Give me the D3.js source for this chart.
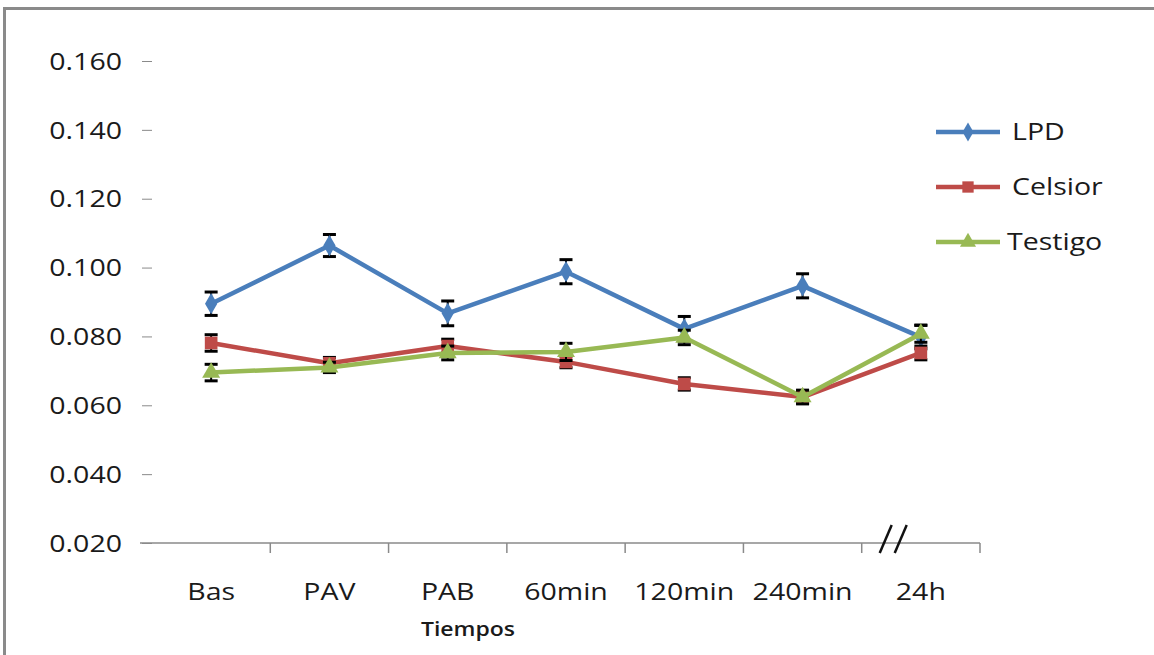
<!DOCTYPE html>
<html>
<head>
<meta charset="utf-8">
<script src="https://cdn.jsdelivr.net/npm/d3@7"></script>
<style>
  html, body { margin: 0; padding: 0; background: #ffffff; }
  svg { display: block; }
  text { font-family: "Open Sans", "Liberation Sans", sans-serif; fill: #1a1a1a; }
</style>
</head>
<body>
<svg id="chart" width="1154" height="655"></svg>
<script>
// Sampling times (x categories)
const categories = ["Bas", "PAV", "PAB", "60min", "120min", "240min", "24h"];

// Mean values per group
const lpd     = [0.0895, 0.1064, 0.0867, 0.0988, 0.0822, 0.0947, 0.0798];
const celsior = [0.0781, 0.0722, 0.0772, 0.0726, 0.0662, 0.0624, 0.0752];
const testigo = [0.0695, 0.0710, 0.0752, 0.0755, 0.0797, 0.0624, 0.0808];

// Error (± value) per group
const lpdErr     = [0.0034, 0.0032, 0.0036, 0.0035, 0.0036, 0.0035, 0.0034];
const celsiorErr = [0.0024, 0.0017, 0.0020, 0.0017, 0.0018, 0.0018, 0.0020];
const testigoErr = [0.0024, 0.0015, 0.0020, 0.0025, 0.0021, 0.0020, 0.0025];

// Y axis ticks
const yTicks = [0.02, 0.04, 0.06, 0.08, 0.10, 0.12, 0.14, 0.16];

const seriesNames = ["LPD", "Celsior", "Testigo"];
const seriesColors = ["#4A7EBB", "#BE4B48", "#98B954"];
const seriesShapes = [d3.symbolDiamond, d3.symbolSquare, d3.symbolTriangle];
const seriesSizes = [130, 160, 140];

const series = [
  { name: seriesNames[0], values: lpd, err: lpdErr },
  { name: seriesNames[1], values: celsior, err: celsiorErr },
  { name: seriesNames[2], values: testigo, err: testigoErr }
];

const svg = d3.select("#chart");

// Outer frame
svg.append("rect")
  .attr("x", 4.5).attr("y", 8.5)
  .attr("width", 1170).attr("height", 670)
  .attr("fill", "none")
  .attr("stroke", "#8a8a8a")
  .attr("stroke-width", 3);

const x = d3.scaleBand().domain(categories).range([152, 980]).padding(0);
const y = d3.scaleLinear().domain([0.02, 0.16]).range([543, 61]);

const sx = 1.24; // horizontal stretch of label glyphs
const fs = 23;

// Y axis: labels and short tick marks, no spine
const yAxis = svg.append("g").attr("transform", "translate(152,0)")
  .call(d3.axisLeft(y).tickValues(yTicks).tickSize(10).tickPadding(20)
    .tickFormat(d3.format(".3f")));
yAxis.select(".domain").remove();
yAxis.selectAll(".tick line").attr("stroke", "#8a8a8a");
yAxis.selectAll(".tick text")
  .attr("font-size", fs)
  .attr("font-family", "Open Sans")
  .attr("fill", "#1a1a1a")
  .attr("transform", `translate(-30,0) scale(${sx},1)`)
  .attr("x", 0)
  .attr("dy", "0.36em");

// X axis line with tick marks at category boundaries
const xAxis = svg.append("g").attr("transform", `translate(0,${y(0.02)})`);
xAxis.append("line")
  .attr("x1", 140).attr("x2", x.range()[1])
  .attr("stroke", "#8a8a8a").attr("stroke-width", 1.5);
xAxis.selectAll("line.tk")
  .data(categories)
  .join("line")
  .attr("class", "tk")
  .attr("x1", d => x(d) + x.bandwidth())
  .attr("x2", d => x(d) + x.bandwidth())
  .attr("y1", 0).attr("y2", 10)
  .attr("stroke", "#8a8a8a").attr("stroke-width", 1.5);
xAxis.selectAll("text")
  .data(categories)
  .join("text")
  .attr("transform", d => `translate(${x(d) + x.bandwidth() / 2},57) scale(${sx},1)`)
  .attr("text-anchor", "middle")
  .attr("font-size", fs)
  .text(d => d);

// Axis break mark before the last category
const bx = x(categories[6]);
const brk = svg.append("g").attr("stroke", "#111").attr("stroke-width", 2.5);
[0, 15].forEach(off => {
  brk.append("line")
    .attr("x1", bx + 18 + off).attr("y1", y(0.02) + 10)
    .attr("x2", bx + 30 + off).attr("y2", y(0.02) - 18);
});

// Axis title
svg.append("text")
  .attr("transform", `translate(468,636) scale(1.15,1)`)
  .attr("text-anchor", "middle")
  .attr("font-size", 20)
  .attr("font-weight", 600)
  .text("Tiempos");

const cx = d => x(d) + x.bandwidth() / 2;
const line = d3.line().x(d => cx(d.cat)).y(d => y(d.v));

series.forEach((s, i) => {
  const pts = categories.map((c, j) => ({ cat: c, v: s.values[j], e: s.err[j] }));
  const g = svg.append("g");

  g.append("path")
    .datum(pts)
    .attr("d", line)
    .attr("fill", "none")
    .attr("stroke", seriesColors[i])
    .attr("stroke-width", 4.5)
    .attr("stroke-linejoin", "round");

  // Error bars
  const eb = g.append("g").attr("stroke", "#000");
  eb.selectAll("line.v").data(pts).join("line").attr("class", "v")
    .attr("x1", d => cx(d.cat)).attr("x2", d => cx(d.cat))
    .attr("y1", d => y(d.v + d.e)).attr("y2", d => y(d.v - d.e))
    .attr("stroke-width", 2);
  eb.selectAll("line.t").data(pts).join("line").attr("class", "t")
    .attr("x1", d => cx(d.cat) - 6.5).attr("x2", d => cx(d.cat) + 6.5)
    .attr("y1", d => y(d.v + d.e)).attr("y2", d => y(d.v + d.e))
    .attr("stroke-width", 3);
  eb.selectAll("line.b").data(pts).join("line").attr("class", "b")
    .attr("x1", d => cx(d.cat) - 6.5).attr("x2", d => cx(d.cat) + 6.5)
    .attr("y1", d => y(d.v - d.e)).attr("y2", d => y(d.v - d.e))
    .attr("stroke-width", 3);

  // Markers
  g.selectAll("path.m").data(pts).join("path").attr("class", "m")
    .attr("d", d3.symbol().type(seriesShapes[i]).size(seriesSizes[i]))
    .attr("transform", d => `translate(${cx(d.cat)},${y(d.v)})`)
    .attr("fill", seriesColors[i]);
});

// Legend
const legendY = [132, 187, 242];
const legend = svg.append("g");
series.forEach((s, i) => {
  const ly = legendY[i];
  legend.append("line")
    .attr("x1", 936).attr("x2", 1000)
    .attr("y1", ly).attr("y2", ly)
    .attr("stroke", seriesColors[i]).attr("stroke-width", 4.5);
  legend.append("path")
    .attr("d", d3.symbol().type(seriesShapes[i]).size(seriesSizes[i] * 0.8))
    .attr("transform", `translate(968,${ly})`)
    .attr("fill", seriesColors[i]);
  legend.append("text")
    .attr("transform", `translate(${i === 2 ? 1007 : 1012},${ly + 8}) scale(${sx},1)`)
    .attr("font-size", fs)
    .text(s.name);
});
</script>
</body>
</html>
